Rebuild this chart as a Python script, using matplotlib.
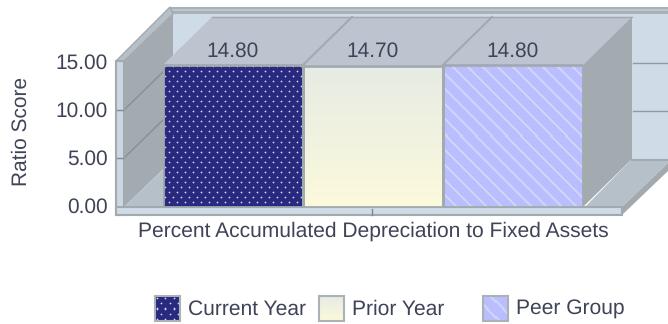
import numpy as np
import matplotlib
matplotlib.use('Agg')
import matplotlib.pyplot as plt
from matplotlib.patches import Polygon, Rectangle
from matplotlib.transforms import ScaledTranslation

plt.rcParams['font.family'] = ['Liberation Sans', 'DejaVu Sans']
plt.rcParams['text.hinting'] = 'no_hinting'

W, H = 668, 324
TEXT = '#3f4358'
EDGE = '#a2aab0'
WALL = '#cfdbe6'
SIDE = '#a4abb0'
TOP = '#bec4cf'
FLOOR = '#b5c0c8'

categories = ['Current Year', 'Prior Year', 'Peer Group']
values = [14.80, 14.70, 14.80]
value_labels = ['14.80', '14.70', '14.80']
xlabel = 'Percent Accumulated Depreciation to Fixed Assets'
ylabel = 'Ratio Score'
yticks = [0, 5, 10, 15]
ytick_labels = ['0.00', '5.00', '10.00', '15.00']


def dots(w, h):
    img = np.zeros((h, w, 3))
    img[:] = matplotlib.colors.to_rgb('#28297f')
    light = np.array(matplotlib.colors.to_rgb('#d4d7ea'))
    for r, y in enumerate(range(2, h, 5)):
        for x in range(2 + (r % 2) * 4, w, 8):
            img[y, x] = light
            for dy, dx in [(0, 1), (1, 0), (0, -1), (-1, 0)]:
                if 0 <= y + dy < h and 0 <= x + dx < w:
                    img[y + dy, x + dx] = img[y + dy, x + dx] * 0.65 + light * 0.35
    return img


def fade(w, h):
    a = np.array(matplotlib.colors.to_rgb('#e6ebe4'))
    b = np.array(matplotlib.colors.to_rgb('#fcfadc'))
    t = np.linspace(0, 1, h)[:, None, None]
    return np.ones((h, w, 1)) * (a * (1 - t) + b * t)


def stripes(w, h):
    base = np.array(matplotlib.colors.to_rgb('#babeff'))
    light = np.array(matplotlib.colors.to_rgb('#d2d9f4'))
    yy, xx = np.mgrid[0:h, 0:w]
    d = (xx - yy) % 15
    m = np.clip(1.3 - np.abs(d - 7) / 1.6, 0, 1)[:, :, None]
    return base * (1 - m) + light * m


fills = [dots, fade, stripes]

fig = plt.figure(figsize=(W / 100, H / 100), dpi=100)
bg = fig.add_axes([0, 0, 1, 1], zorder=0)
bg.set_xlim(0, W)
bg.set_ylim(H, 0)
bg.axis('off')


def poly(pts, fc, ec='none', lw=0, z=1):
    bg.add_patch(Polygon(pts, closed=True, fc=fc, ec=ec, lw=lw, zorder=z))


# back wall and frame
bg.add_patch(Rectangle((173, 14), W - 173, 146, fc=WALL, ec='none', zorder=1))
bg.add_patch(Rectangle((170, 7), W - 170, 7, fc='#a8b1b8', ec='none', zorder=1))
bg.plot([172, W], [10, 10], color='#bcc6cd', lw=1.5, zorder=2)
poly([(116, 61), (170, 7), (173, 14), (124, 61)], FLOOR, EDGE, 1, 2)
poly([(124, 61), (173, 14), (173, 160), (124, 207)], SIDE, z=2)
poly([(124, 207), (165, 168), (165, 207)], FLOOR, z=3)
for y in [111, 63]:
    bg.plot([633, W], [y, y], color='#8f9aa3', lw=1, zorder=2)
for y in [110, 158]:
    bg.plot([124, 163], [y, y - 38], color='#858f96', lw=1, zorder=3)
    bg.plot([117, 123], [y, y], color='#7f898f', lw=1, zorder=5)

# floor right of the bars
poly([(585, 207), (632, 159), (W, 159), (W, 163), (622, 207)], FLOOR, z=2)
bg.plot([632, W], [159.5, 159.5], color=EDGE, lw=1.5, zorder=3)
poly([(622, 207), (W, 163), (W, 171), (622, 215)], EDGE, z=3)

# front frame
bg.add_patch(Rectangle((116, 61), 8, 154, fc='#cbd8e4', ec=EDGE, lw=1.5, zorder=4))
bg.add_patch(Rectangle((116, 207), 506, 8, fc=WALL, ec=EDGE, lw=1.5, zorder=4))
bg.plot([372, 372], [209, 215], color='#7f898f', lw=1, zorder=5)

# bars, on the scale of the data
ax = fig.add_axes([163 / W, 1 - 207 / H, 420 / W, 144 / H], zorder=1)
ax.patch.set_alpha(0)
x = np.arange(len(values))
bars = ax.bar(x, values, width=1.0, color='none', edgecolor=EDGE, linewidth=2, zorder=3)
ax.set_xlim(-0.5, 2.5)
ax.set_ylim(0, 15)
fig.canvas.draw()

for bar, fill in zip(bars, fills):
    x0, y0, bw, bh = bar.get_x(), bar.get_y(), bar.get_width(), bar.get_height()
    p0 = ax.transData.transform((x0, y0))
    p1 = ax.transData.transform((x0 + bw, y0 + bh))
    im = ax.imshow(fill(int(round(p1[0] - p0[0])), int(round(p1[1] - p0[1]))),
                   extent=(x0, x0 + bw, y0, y0 + bh), aspect='auto',
                   interpolation='nearest', zorder=2)
    im.set_clip_path(Rectangle((x0, y0), bw, bh, transform=ax.transData))
ax.set_xlim(-0.5, 2.5)
ax.set_ylim(0, 15)


def to_px(xv, yv):
    p = ax.transData.transform((xv, yv))
    return p[0], H - p[1]


# top and side faces of the bars
DX, DY = 49, -48
tx0, ty = to_px(-0.5, max(values))
tx1, _ = to_px(2.5, max(values))
_, by = to_px(2.5, 0)
poly([(tx0, ty), (tx0 + DX, ty + DY), (tx1 + DX, ty + DY), (tx1, ty)], TOP, z=3)
poly([(tx1, ty), (tx1 + DX, ty + DY), (tx1 + DX, by + DY), (tx1, by)], SIDE, z=3)
bg.plot([tx0 + DX, tx1 + DX], [ty + DY, ty + DY], color=EDGE, lw=1, zorder=3)
for i, v in enumerate(values):
    if i > 0:
        ex, _ = to_px(i - 0.5, v)
        bg.plot([ex, ex + DX], [ty, ty + DY], color=EDGE, lw=1.5, zorder=4)
    ax.text(i - 0.003, max(values) + 0.4, value_labels[i], ha='center', va='bottom',
            fontsize=15, color=TEXT, clip_on=False)

for s in ax.spines.values():
    s.set_visible(False)
ax.set_yticks(yticks)
ax.set_yticklabels(ytick_labels, fontsize=15, color=TEXT)
ax.tick_params(axis='y', length=0, pad=39.5)
up = ScaledTranslation(0, 1.4 / 100, fig.dpi_scale_trans)
for lab in ax.get_yticklabels():
    lab.set_transform(lab.get_transform() + up)
ax.set_xticks([1])
ax.set_xticklabels([xlabel], fontsize=15.1, color=TEXT)
ax.tick_params(axis='x', length=0, pad=10.5)
fig.text(21 / W, 1 - 131 / H, ylabel, rotation=90, ha='center', va='center',
         fontsize=15, color=TEXT)

# legend
swatch_x = [155, 319, 483]
text_x = [188, 352, 516]
for name, fill, sx, tx in zip(categories, fills, swatch_x, text_x):
    bg.imshow(fill(24, 24), extent=(sx, sx + 25, 321, 296), aspect='auto',
              interpolation='nearest', zorder=4)
    bg.add_patch(Rectangle((sx, 296), 25, 25, fc='none', ec='#aab2b8', lw=1.5, zorder=5))
    bg.text(tx, 314.5, name, ha='left', va='baseline', fontsize=15.1, color=TEXT)
bg.set_xlim(0, W)
bg.set_ylim(H, 0)

fig.savefig('out.png', dpi=100)
